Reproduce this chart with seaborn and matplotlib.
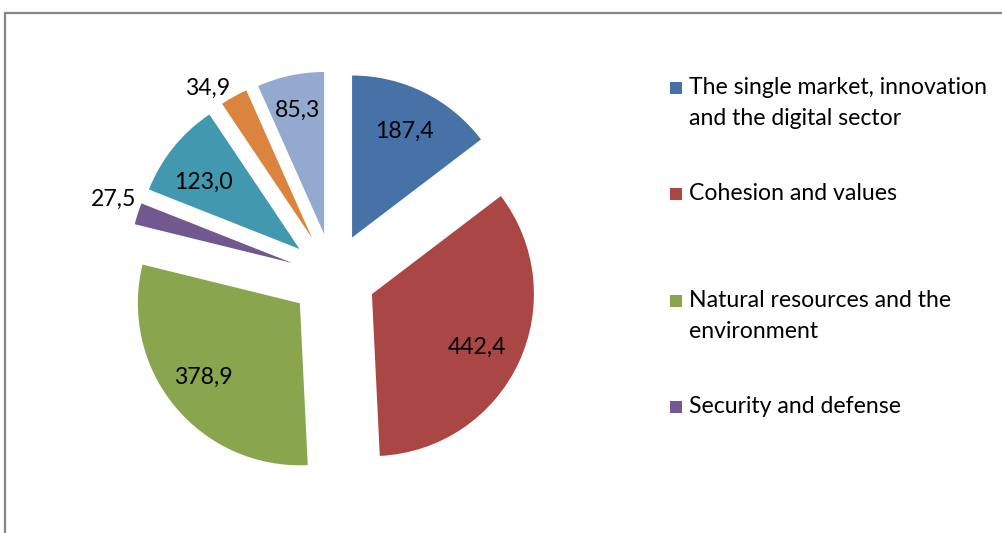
import numpy as np
import matplotlib
matplotlib.use("Agg")
import matplotlib.pyplot as plt
from matplotlib.patches import Rectangle
import seaborn as sns

# ---- data ----
categories = [
    "The single market, innovation\nand the digital sector",
    "Cohesion and values",
    "Natural resources and the\nenvironment",
    "Security and defense",
    "Neighbourhood and the world",
    "Migration and border management",
    "European public administration",
]
values = [187.4, 442.4, 378.9, 27.5, 123.0, 34.9, 85.3]
value_labels = ["187,4", "442,4", "378,9", "27,5", "123,0", "34,9", "85,3"]
legend_count = 4  # legend is truncated in the original

# ---- style ----
sns.set_theme(style="white")
plt.rcParams["font.family"] = ["Lato", "DejaVu Sans"]
colors = sns.color_palette(["#4672A8", "#AA4643", "#89A54E", "#71588F",
                            "#4198AF", "#DB843D", "#93A9CF"])

W, H = 1002, 533
fig = plt.figure(figsize=(W / 100, H / 100), dpi=100)
FS = 16.6

# pie axes geometry (pixels)
R_px = 162.0
cx, cy = 333.0, 276.0
lim = 1.4
size = 2 * lim * R_px
ax = fig.add_axes([(cx - size / 2) / W, (H - cy - size / 2) / H, size / W, size / H])

wedges, _ = ax.pie(values, colors=colors, startangle=90, counterclock=False,
                   explode=[0.265] * len(values), radius=1.0,
                   wedgeprops=dict(linewidth=0))
ax.set_xlim(-lim, lim)
ax.set_ylim(-lim, lim)
ax.set_aspect("equal")
ax.axis("off")

# label placement (distance from wedge apex in radii, angle nudge in degrees)
label_dist = [0.73, 0.73, 0.75, 1.17, 0.72, 1.13, 0.78]
label_nudge = [0, -2, -2, -2, 4, 6, 0]
for w, txt, d, nd in zip(wedges, value_labels, label_dist, label_nudge):
    ang = np.deg2rad((w.theta1 + w.theta2) / 2 + nd)
    x0, y0 = w.center
    ax.text(x0 + d * np.cos(ang), y0 + d * np.sin(ang), txt,
            ha="center", va="center", fontsize=FS, color="black")

# legend (first entries only, as in the original)
sq = 12
x_sq = 670
x_txt = 689
base0 = 94
step = 106.4
line_gap = 31
for i in range(legend_count):
    base = base0 + i * step
    fig.add_artist(Rectangle((x_sq / W, (H - base) / H), sq / W, sq / H,
                             transform=fig.transFigure, facecolor=colors[i],
                             edgecolor="none"))
    for j, line in enumerate(categories[i].split("\n")):
        fig.text(x_txt / W, (H - base - j * line_gap) / H, line, ha="left",
                 va="baseline", fontsize=FS, color="black")

# chart frame (partially visible)
fig.add_artist(Rectangle((5 / W, -0.05), 1.1, (H - 13) / H + 0.05,
                         transform=fig.transFigure, facecolor="none",
                         edgecolor="#868686", linewidth=1.6, clip_on=False))

fig.savefig("out.png", dpi=100)
